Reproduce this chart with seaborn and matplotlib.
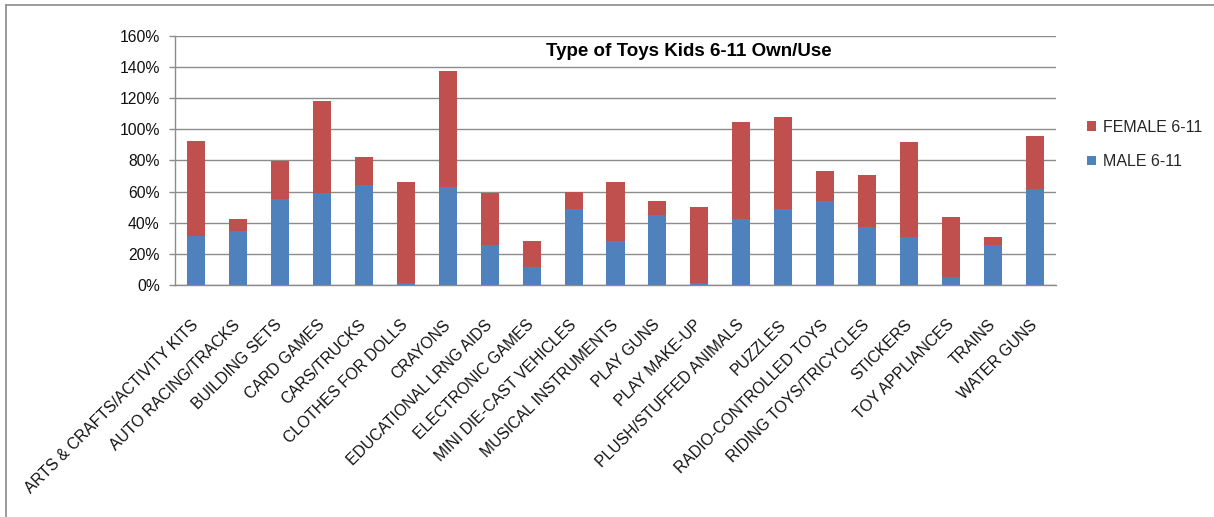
import matplotlib
matplotlib.use("Agg")
import matplotlib.pyplot as plt
import seaborn as sns
import numpy as np
from matplotlib.patches import Patch
from matplotlib.lines import Line2D
from matplotlib.ticker import PercentFormatter, FixedLocator

categories = [
    "ARTS & CRAFTS/ACTIVITY KITS", "AUTO RACING/TRACKS", "BUILDING SETS", "CARD GAMES",
    "CARS/TRUCKS", "CLOTHES FOR DOLLS", "CRAYONS", "EDUCATIONAL LRNG AIDS",
    "ELECTRONIC GAMES", "MINI DIE-CAST VEHICLES", "MUSICAL INSTRUMENTS", "PLAY GUNS",
    "PLAY MAKE-UP", "PLUSH/STUFFED ANIMALS", "PUZZLES", "RADIO-CONTROLLED TOYS",
    "RIDING TOYS/TRICYCLES", "STICKERS", "TOY APPLIANCES", "TRAINS", "WATER GUNS",
]
male = [31.6, 34.8, 55.3, 59.2, 64.3, 1.1, 62.6, 25.8, 11.7, 48.9, 28.0,
        45.1, 1.3, 42.1, 48.5, 53.6, 37.0, 31.0, 5.3, 25.4, 61.3]
female = [60.9, 7.7, 24.0, 58.9, 17.9, 65.1, 74.8, 33.4, 16.7, 10.9, 38.2,
          8.9, 48.9, 62.6, 59.4, 19.7, 33.3, 60.9, 38.5, 5.6, 34.4]
series_labels = ["FEMALE 6-11", "MALE 6-11"]
title = "Type of Toys Kids 6-11 Own/Use"

BLUE = "#4F81BD"
RED = "#C0504D"
GRID = "#8C8C8C"

sns.set_theme(style="white")
plt.rcParams["font.family"] = ["Liberation Sans", "DejaVu Sans"]

W, H = 1214, 517
fig = plt.figure(figsize=(W / 100, H / 100), dpi=100)
ax = fig.add_axes([175 / W, 1 - 285 / H, (1056 - 175) / W, (285 - 35.7) / H])

totals = [m + f for m, f in zip(male, female)]
sns.barplot(x=categories, y=totals, color=RED, saturation=1, width=0.43, ax=ax,
            zorder=3, linewidth=0, edgecolor="none")
sns.barplot(x=categories, y=male, color=BLUE, saturation=1, width=0.43, ax=ax,
            zorder=4, linewidth=0, edgecolor="none")

n = len(categories)
ax.set_xlim(-0.5, n - 0.5)
ax.set_ylim(0, 160)
ax.yaxis.set_major_locator(FixedLocator(np.arange(0, 161, 20)))
ax.yaxis.set_major_formatter(PercentFormatter(100, decimals=0))
ax.grid(axis="y", color=GRID, linewidth=1.0, zorder=0)
ax.grid(axis="x", visible=False)
ax.set_axisbelow(True)

for s in ["top", "right"]:
    ax.spines[s].set_visible(False)
for s in ["left", "bottom"]:
    ax.spines[s].set_color(GRID)
    ax.spines[s].set_linewidth(1.0)

ax.set_xticks(np.arange(n))
ax.set_xticklabels(categories, rotation=45, ha="right", va="center",
                   rotation_mode="anchor", fontsize=11.3)
ax.set_xticks(np.arange(n + 1) - 0.5, minor=True)
ax.tick_params(axis="x", which="major", length=0, pad=27)
ax.tick_params(axis="x", which="minor", length=4, width=1, color=GRID, direction="out")
ax.tick_params(axis="y", length=4, width=1, color=GRID, direction="out", pad=7, labelsize=11.3, left=True)
ax.set_xlabel("")
ax.set_ylabel("")
for lbl in ax.get_xticklabels() + ax.get_yticklabels():
    lbl.set_color("#111111")

fig.text(689 / W, 1 - 52 / H, title, ha="center", va="center",
         fontsize=13.5, fontweight="bold", color="black")

handles = [Patch(facecolor=RED, edgecolor="none"), Patch(facecolor=BLUE, edgecolor="none")]
fig.legend(handles, series_labels, loc="center left",
           bbox_to_anchor=(1087 / W, 1 - 144.5 / H), frameon=False,
           fontsize=11.5, handlelength=0.55, handleheight=0.55,
           handletextpad=0.45, labelspacing=1.2, borderpad=0, borderaxespad=0)

# outer chart frame (top and left edges visible)
fig.add_artist(Line2D([6 / W, 1.0], [1 - 5 / H, 1 - 5 / H], transform=fig.transFigure,
                      color="#8A8A8A", linewidth=1.2))
fig.add_artist(Line2D([6 / W, 6 / W], [0, 1 - 5 / H], transform=fig.transFigure,
                      color="#8A8A8A", linewidth=1.2))

fig.savefig("out.png", dpi=100, facecolor="white")
